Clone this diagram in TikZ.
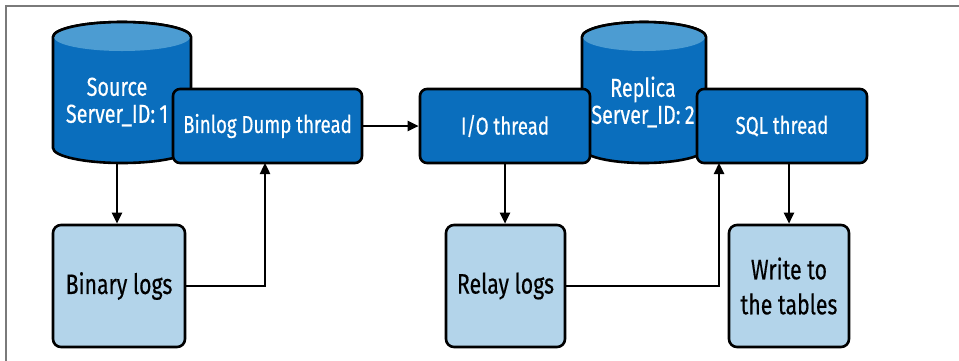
\documentclass[tikz,border=0pt]{standalone}
\usepackage{fontspec}
\setmainfont{Fira Sans}[FakeStretch=0.76, FakeBold=0.4]
\usetikzlibrary{arrows.meta}
\definecolor{darkblue}{HTML}{0A6EBD}
\definecolor{capblue}{HTML}{4C9CD2}
\definecolor{lightblue}{HTML}{B3D4EA}
\definecolor{framegray}{HTML}{7A7A7A}
\tikzset{
  thread/.style={draw=black, line width=2.6pt, fill=darkblue, rounded corners=7pt, text=white, font=\fontsize{24.5}{28}\selectfont, inner sep=0pt},
  store/.style={draw=black, line width=2.6pt, fill=lightblue, rounded corners=8pt, text=black, font=\fontsize{28}{35}\selectfont, inner sep=0pt, align=center},
  cyl/.style={draw=black, line width=2.6pt, fill=darkblue},
  cyltext/.style={text=white, font=\fontsize{26}{27}\selectfont, align=center, inner sep=0pt},
  conn/.style={line width=2.4pt, -{Triangle[length=11pt,width=10pt]}},
}
\begin{document}
\begin{tikzpicture}[x=1pt,y=-1pt]
\useasboundingbox (0,0) rectangle (959,360);
\begin{scope}
\clip (0,0) rectangle (959,360);
\draw[framegray, line width=1.8pt] (6,6) rectangle (975,380);
\end{scope}
% Source cylinder
\path[cyl] (53,37) -- (53,148) arc[start angle=180, end angle=0, x radius=69, y radius=15] -- (191,37) arc[start angle=0, end angle=-180, x radius=69, y radius=15] -- cycle;
\fill[capblue] (122,37) ellipse[x radius=68, y radius=14];
\draw[black, line width=2.6pt] (53,37) arc[start angle=180, end angle=360, x radius=69, y radius=15];
\node[cyltext] (src) at (117,102) {Source\\Server\_ID:\,1};
\coordinate (srcbot) at (117,163);
% Replica cylinder
\path[cyl] (582,37) -- (582,148) arc[start angle=180, end angle=0, x radius=62, y radius=15] -- (706,37) arc[start angle=0, end angle=-180, x radius=62, y radius=15] -- cycle;
\fill[capblue] (644,37) ellipse[x radius=61, y radius=14];
\draw[black, line width=2.6pt] (582,37) arc[start angle=180, end angle=360, x radius=62, y radius=15];
\node[cyltext] (rep) at (643,102) {Replica\\Server\_ID:\,2};
% threads
\node[thread, minimum width=189pt, minimum height=74pt] (dump) at (267.5,126) {Binlog Dump thread};
\node[thread, minimum width=170pt, minimum height=74pt] (io) at (505,126) {I/O thread};
\node[thread, minimum width=170pt, minimum height=74pt] (sql) at (782,126) {SQL thread};
% stores
\node[store, minimum width=132pt, minimum height=122pt] (bin) at (119,286) {Binary logs};
\node[store, minimum width=119pt, minimum height=122pt] (relay) at (505.5,286) {Relay logs};
\node[store, minimum width=120pt, minimum height=122pt] (tables) at (789,286) {Write to\\the tables};
% connectors
\draw[conn] (srcbot) -- (srcbot |- bin.north);
\draw[conn] (bin.east) -| (265,163);
\draw[conn] (dump.east) -- (io.west);
\draw[conn] (io.south) -- (io.south |- relay.north);
\draw[conn] (relay.east) -| (719,163);
\draw[conn] (sql.south -| tables.north) -- (tables.north);
\end{tikzpicture}
\end{document}
